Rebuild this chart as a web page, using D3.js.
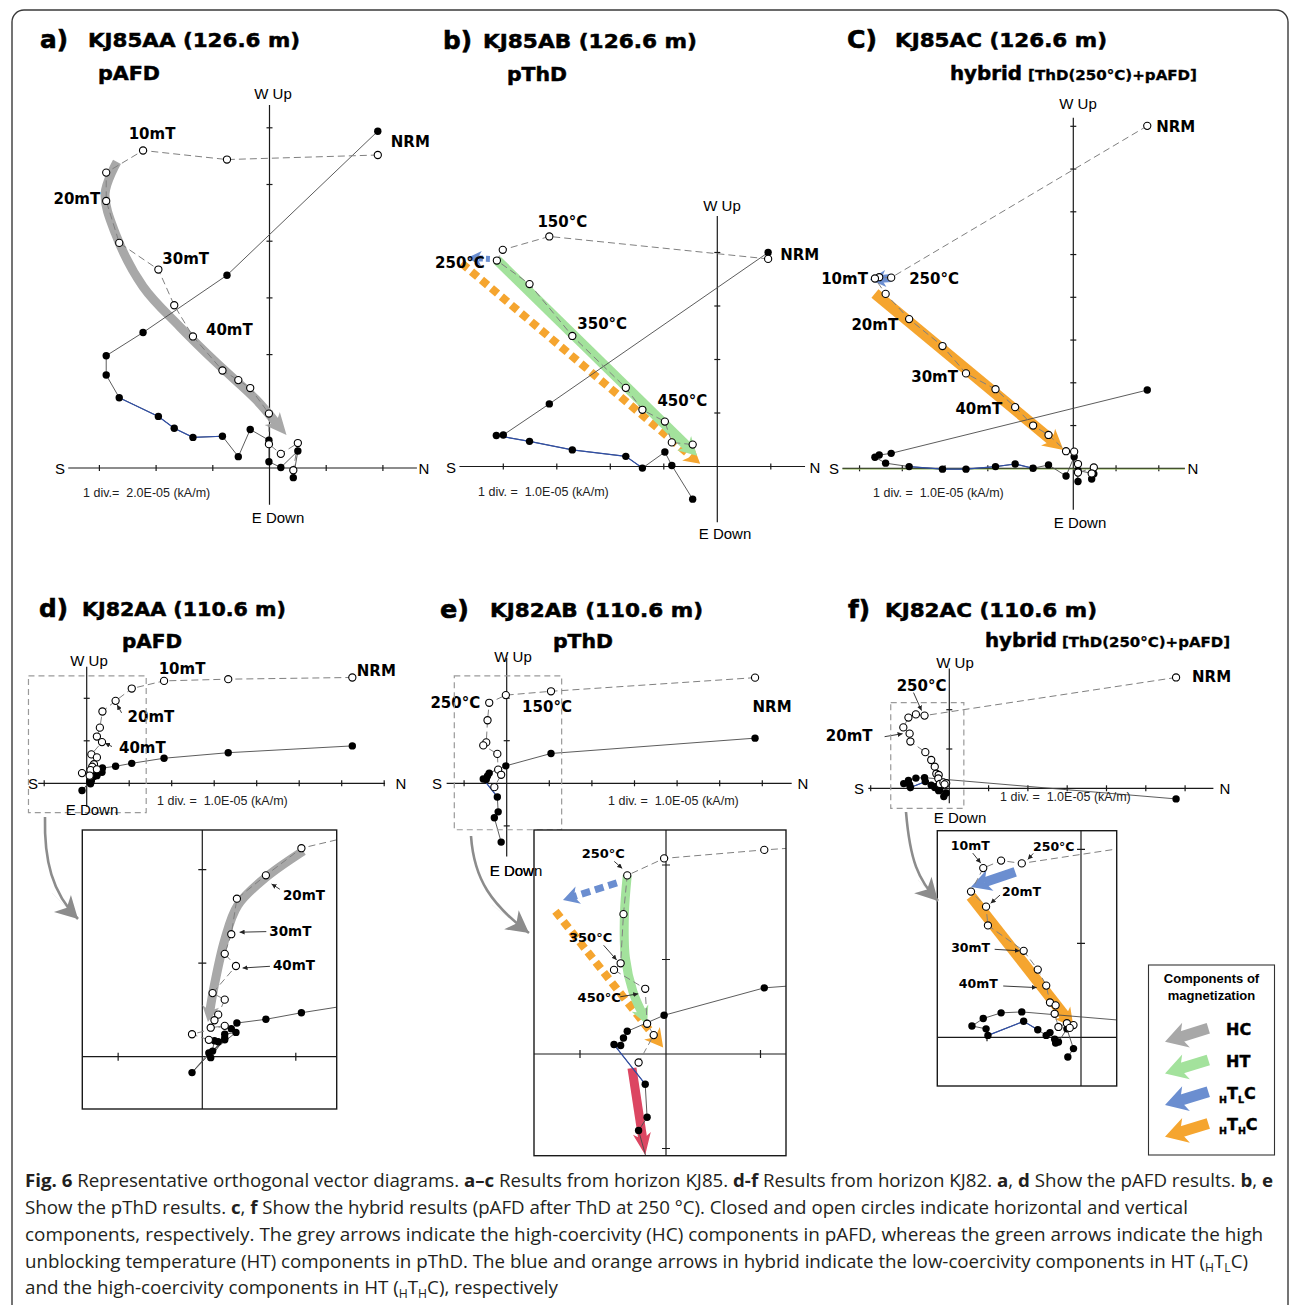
<!DOCTYPE html>
<html><head><meta charset="utf-8">
<script src="https://cdn.jsdelivr.net/npm/d3@7"></script>
<style>body{margin:0;background:#fff} text{white-space:pre}</style>
</head><body>
<svg id="fig" width="1290" height="1305"></svg>
<script>
// ================= DATA (in axis divisions) =================
// Panel a: KJ85AA pAFD  (vertical = open, horizontal = closed)
const aVertical = [[1.91,5.52],[-0.75,5.44],[-2.23,5.60],[-2.88,5.21],[-2.88,4.71],[-2.65,3.97],[-1.96,3.50],[-1.68,2.87],[-1.35,2.32],[-0.83,1.72],[-0.55,1.55],[-0.34,1.41],[-0.01,0.96],[-0.01,0.42],[0.20,0.25],[0.50,0.44],[0.42,-0.04]];
const aHorizontal = [[1.91,5.94],[-0.75,3.40],[-2.23,2.39],[-2.88,1.98],[-2.88,1.64],[-2.65,1.24],[-1.96,0.91],[-1.68,0.70],[-1.35,0.54],[-0.83,0.56],[-0.55,0.20],[-0.34,0.68],[-0.01,0.49],[-0.01,0.11],[0.20,0.01],[0.50,0.30],[0.42,-0.17]];
const aTicksX = [-3,-2,-1,1,2], aTicksY = [1,2,3,4,5,6];
const aArrowHC = [[-2.69,5.40],[-2.90,4.84],[-2.72,4.14],[-2.23,3.20],[-1.58,2.49],[-0.93,1.85],[-0.23,1.20],[0.30,0.58]];

// Panel b: KJ85AB pThD
const bVertical = [[0.95,3.88],[-3.14,4.30],[-4.01,4.05],[-4.12,3.85],[-3.51,3.41],[-2.71,2.44],[-1.71,1.47],[-1.40,1.06],[-0.98,0.84],[-0.85,0.45],[-0.46,0.41]];
const bHorizontal = [[0.95,4.00],[-3.14,1.17],[-4.00,0.59],[-4.13,0.58],[-3.51,0.47],[-2.71,0.31],[-1.71,0.19],[-1.40,-0.03],[-0.98,0.27],[-0.85,0.02],[-0.46,-0.61]];
const bTicksX = [-4,-3,-2,-1,1], bTicksY = [1,2,3,4];
const bArrowHT = [[-4.12,3.86],[-0.38,0.20]];
const bArrowHTHC = [[-4.78,3.80],[-0.32,0.05]];
const bArrowHTLC = [[-4.25,3.88],[-4.67,3.90]];

// Panel c: KJ85AC hybrid
const cVertical = [[1.73,8.01],[-4.26,4.46],[-4.54,4.47],[-4.64,4.44],[-4.39,4.08],[-3.84,3.49],[-3.06,2.86],[-2.51,2.22],[-1.82,1.85],[-1.36,1.43],[-0.94,1.00],[-0.58,0.78],[-0.17,0.40],[0.02,0.39],[0.11,0.10],[0.11,-0.10],[0.48,0.02],[0.43,-0.12]];
const cHorizontal = [[1.73,1.83],[-4.26,0.35],[-4.54,0.31],[-4.64,0.26],[-4.39,0.12],[-3.84,0.04],[-3.06,-0.02],[-2.51,-0.02],[-1.82,0.04],[-1.36,0.10],[-0.94,0.00],[-0.58,0.08],[-0.17,-0.18],[0.02,0.27],[0.11,-0.31],[0.11,-0.05],[0.48,-0.13],[0.43,-0.25]];
const cTicksX = [-5,-4,-3,-2,-1,1,2], cTicksY = [1,2,3,4,5,6,7,8];
const cArrowHTHC = [[-4.64,4.09],[-0.23,0.43]];
const cArrowHTLC = [[-4.26,4.45],[-4.76,4.41]];

// Panel d: KJ82AA pAFD
const dVertical = [[6.25,2.49],[3.33,2.45],[1.82,2.41],[1.06,2.23],[0.68,1.94],[0.37,1.69],[0.31,1.31],[0.24,1.10],[0.36,0.97],[0.11,0.68],[0.24,0.61],[0.17,0.45],[0.13,0.39],[0.09,0.31],[0.24,0.33],[-0.11,0.24],[0.07,0.18]];
const dHorizontal = [[6.25,0.88],[3.33,0.72],[1.82,0.59],[1.06,0.47],[0.68,0.40],[0.37,0.36],[0.31,0.30],[0.24,0.24],[0.36,0.26],[0.11,0.06],[0.24,0.18],[0.17,0.16],[0.13,0.17],[0.09,-0.01],[0.24,0.20],[-0.11,-0.17],[0.07,0.04]];
const dTicksX = [-1,1,2,3,4,5,6,7], dTicksY = [1,2];
const dInsetTicksX = [-0.9,1], dInsetTicksY = [1,2];
const dArrowHC = [[1.08,2.20],[0.67,1.91],[0.38,1.62],[0.24,1.25],[0.13,0.77],[0.06,0.37]];

// Panel e: KJ82AB pThD
const eVertical = [[5.83,2.48],[1.04,2.16],[-0.02,2.07],[-0.41,1.89],[-0.45,1.48],[-0.48,0.96],[-0.55,0.89],[-0.22,0.69],[-0.20,0.32],[-0.13,0.20],[-0.29,-0.09]];
const eHorizontal = [[5.83,1.06],[1.04,0.70],[-0.02,0.41],[-0.41,0.24],[-0.45,0.17],[-0.48,0.09],[-0.55,0.10],[-0.22,-0.32],[-0.20,-0.67],[-0.29,-0.81],[-0.13,-1.38]];
const eTicksX = [-1,1,2,3,4,5,6], eTicksY = [-1,1,2];
const eInsetTicksX = [-0.91,1], eInsetTicksY = [-1,1,2];
const eArrowHT = [[-0.41,1.89],[-0.44,1.48],[-0.43,1.02],[-0.35,0.66],[-0.20,0.31]];
const eArrowHTLC = [[-0.52,1.81],[-1.09,1.63]];
const eArrowHTHC = [[-1.17,1.51],[-0.03,0.07]];
const eArrowLT = [[-0.36,-0.15],[-0.22,-1.07]];

// Panel f: KJ82AC hybrid
const fVertical = [[5.77,2.82],[-0.63,1.85],[-0.85,1.88],[-1.04,1.80],[-1.17,1.55],[-1.01,1.39],[-0.99,1.19],[-0.61,0.92],[-0.46,0.72],[-0.37,0.55],[-0.33,0.37],[-0.27,0.34],[-0.28,0.25],[-0.24,0.11],[-0.15,0.15],[-0.08,0.13],[-0.12,0.10]];
const fHorizontal = [[5.77,-0.27],[-0.63,0.27],[-0.85,0.26],[-1.04,0.20],[-1.16,0.12],[-1.01,0.09],[-0.99,0.02],[-0.61,0.17],[-0.46,0.08],[-0.37,0.02],[-0.33,0.05],[-0.27,-0.06],[-0.28,-0.02],[-0.24,-0.05],[-0.15,0.09],[-0.08,-0.12],[-0.14,-0.21]];
const fTicksX = [-2,-1,1,2,3,4,5,6], fTicksY = [1,2];
const fInsetTicksX = [-1], fInsetTicksY = [1,2];
const fArrowHTLC = [[-0.70,1.76],[-1.17,1.60]];
const fArrowHTHC = [[-1.17,1.50],[-0.08,0.11]];

// Legend
const legendItems = ["HC","HT","HTLC","HTHC"];

// Caption
const captionLines = [
  [["Fig. 6","b"],[" Representative orthogonal vector diagrams. ",""],["a–c","b"],[" Results from horizon KJ85. ",""],["d-f","b"],[" Results from horizon KJ82. ",""],["a","b"],[", ",""],["d","b"],[" Show the pAFD results. ",""],["b","b"],[", ",""],["e","b"]],
  [["Show the pThD results. ",""],["c","b"],[", ",""],["f","b"],[" Show the hybrid results (pAFD after ThD at 250 °C). Closed and open circles indicate horizontal and vertical",""]],
  [["components, respectively. The grey arrows indicate the high-coercivity (HC) components in pAFD, whereas the green arrows indicate the high",""]],
  [["unblocking temperature (HT) components in pThD. The blue and orange arrows in hybrid indicate the low-coercivity components in HT (",""],["H","sub"],["T",""],["L","sub"],["C)",""]],
  [["and the high-coercivity components in HT (",""],["H","sub"],["T",""],["H","sub"],["C), respectively",""]]
];

// ================= DRAWING =================
const COL = {gray:'#a8a8a8', green:'#a3e29c', blue:'#6b8ed0', orange:'#f5a52f', red:'#dc4662', conn:'#8c8c8c'};
const BOLD = "'DejaVu Sans', sans-serif";
const REG = "'Liberation Sans', Arial, sans-serif";
const svg = d3.select('#fig');
const defs = svg.append('defs');
defs.append('marker').attr('id','ptr').attr('viewBox','0 0 6 6').attr('refX',6).attr('refY',3)
  .attr('markerWidth',5).attr('markerHeight',5).attr('markerUnits','userSpaceOnUse').attr('orient','auto')
  .append('path').attr('d','M0,0L6,3L0,6Z').attr('fill','#222');

svg.append('rect').attr('x',12).attr('y',10).attr('width',1276).attr('height',1340).attr('rx',12)
  .attr('fill','none').attr('stroke','#3a3a3a').attr('stroke-width',1.4);

function drawArrow(g, pts, o) {
  const n = pts.length, T = pts[n-1], P0 = pts[n-2];
  let dx = T[0]-P0[0], dy = T[1]-P0[1]; const L = Math.hypot(dx,dy); dx/=L; dy/=L;
  const nx = -dy, ny = dx, hl = o.hl, hw = o.hw;
  const S = [T[0]-dx*hl*0.7, T[1]-dy*hl*0.7];
  const shaft = pts.slice(0,n-1).concat([S]);
  const ln = d3.line().curve(n>2 ? d3.curveCatmullRom.alpha(0.5) : d3.curveLinear);
  g.append('path').attr('d', ln(shaft)).attr('fill','none').attr('stroke',o.color)
    .attr('stroke-width',o.w).attr('stroke-dasharray',o.dash||null).attr('stroke-linecap','butt');
  const B = [T[0]-dx*hl, T[1]-dy*hl], N = [T[0]-dx*hl*0.72, T[1]-dy*hl*0.72];
  const head = [T,[B[0]+nx*hw/2,B[1]+ny*hw/2],N,[B[0]-nx*hw/2,B[1]-ny*hw/2]];
  g.append('path').attr('d','M'+head.map(p=>p.join(',')).join('L')+'Z').attr('fill',o.color);
}

function scalesFor(ox, oy, div, xd, yd) {
  return {
    x: d3.scaleLinear().domain(xd).range([ox+xd[0]*div, ox+xd[1]*div]),
    y: d3.scaleLinear().domain(yd).range([oy-yd[0]*div, oy-yd[1]*div])
  };
}

function drawAxes(g, s, tx, ty, tl) {
  const [x0,x1] = s.x.domain(), [y0,y1] = s.y.domain();
  const ax = g.append('g').attr('stroke','#1a1a1a').attr('stroke-width',1.2);
  ax.append('line').attr('x1',s.x(x0)).attr('x2',s.x(x1)).attr('y1',s.y(0)).attr('y2',s.y(0));
  ax.append('line').attr('x1',s.x(0)).attr('x2',s.x(0)).attr('y1',s.y(y0)).attr('y2',s.y(y1));
  tx.forEach(t=>ax.append('line').attr('x1',s.x(t)).attr('x2',s.x(t)).attr('y1',s.y(0)-tl).attr('y2',s.y(0)+tl));
  ty.forEach(t=>ax.append('line').attr('y1',s.y(t)).attr('y2',s.y(t)).attr('x1',s.x(0)-tl).attr('x2',s.x(0)+tl));
}

function drawData(g, s, P, arrows) {
  const line = d3.line().x(d=>s.x(d[0])).y(d=>s.y(d[1]));
  (arrows||[]).forEach(a=>drawArrow(g, a.pts.map(p=>[s.x(p[0]),s.y(p[1])]), a));
  g.append('path').attr('d',line(P.horiz)).attr('fill','none').attr('stroke','#4a4a4a').attr('stroke-width',0.9);
  if (P.blue) g.append('path').attr('d',line(P.horiz.slice(P.blue[0],P.blue[1]+1))).attr('fill','none').attr('stroke','#2f4fa8').attr('stroke-width',1.2);
  g.append('path').attr('d',line(P.vert)).attr('fill','none').attr('stroke','#808080').attr('stroke-width',1).attr('stroke-dasharray','7,4');
  g.selectAll(null).data(P.horiz).join('circle').attr('cx',d=>s.x(d[0])).attr('cy',d=>s.y(d[1])).attr('r',3.7).attr('fill','#000');
  g.selectAll(null).data(P.vert).join('circle').attr('cx',d=>s.x(d[0])).attr('cy',d=>s.y(d[1])).attr('r',3.6).attr('fill','#fff').attr('stroke','#000').attr('stroke-width',1.1);
}

function drawLabels(g, s, P, labels, size) {
  labels.forEach(L=>{
    const pt = (L.s==='h'?P.horiz:P.vert)[L.i];
    const px = s.x(pt[0]), py = s.y(pt[1]);
    g.append('text').attr('x',px+L.dx).attr('y',py+L.dy).attr('dominant-baseline','central')
      .attr('text-anchor',L.a).attr('font-family',BOLD).attr('font-weight','bold').attr('font-size',size).attr('fill','#000').text(L.t);
    if (L.ptr) g.append('line').attr('x1',px+L.ptr[0]).attr('y1',py+L.ptr[1]).attr('x2',px+L.ptr[2]).attr('y2',py+L.ptr[3])
      .attr('stroke','#222').attr('stroke-width',0.9).attr('marker-end','url(#ptr)');
  });
}

function txt(x, y, t, o) {
  const e = svg.append('text').attr('x',x).attr('y',y).attr('font-family',o.f||REG).attr('font-size',o.size)
    .attr('font-weight',o.w||'normal').attr('text-anchor',o.a||'start').attr('fill',o.c||'#000').text(t);
  if (o.c2) e.attr('dominant-baseline','central');
  if (o.len) e.attr('textLength',o.len).attr('lengthAdjust','spacingAndGlyphs');
  if (o.stroke) e.attr('stroke','#000').attr('stroke-width',o.stroke);
  return e;
}

const panels = [
  {P:{vert:aVertical,horiz:aHorizontal,blue:[5,9]}, o:[269.5,468], div:56.7, xd:[-3.55,2.6], yd:[-0.65,6.4], tx:aTicksX, ty:aTicksY,
   arrows:[{pts:aArrowHC,color:COL.gray,w:9,hl:22,hw:20}],
   labels:[{t:'NRM',s:'v',i:0,dx:13,dy:-13,a:'start'},{t:'10mT',s:'v',i:2,dx:9,dy:-16,a:'middle'},{t:'20mT',s:'v',i:4,dx:-6,dy:-2,a:'end'},
           {t:'30mT',s:'v',i:6,dx:4,dy:-11,a:'start'},{t:'40mT',s:'v',i:8,dx:13,dy:-6,a:'start'}],
   ax:{wu:[273,93],ed:[278,517],S:[60,468],N:[424,468],dv:[83,493],dvt:'1 div.=  2.0E-05 (kA/m)'}},
  {P:{vert:bVertical,horiz:bHorizontal,blue:[2,7]}, o:[717.3,466.5], div:53.5, xd:[-4.82,1.64], yd:[-1.04,4.68], tx:bTicksX, ty:bTicksY,
   arrows:[{pts:bArrowHTHC,color:COL.orange,w:8,hl:16,hw:18,dash:'8,5'},{pts:bArrowHT,color:COL.green,w:10,hl:18,hw:20},{pts:bArrowHTLC,color:COL.blue,w:6,hl:14,hw:15,dash:'4,3'}],
   labels:[{t:'150°C',s:'v',i:1,dx:13,dy:-14,a:'middle'},{t:'250°C',s:'v',i:3,dx:-12,dy:2,a:'end'},{t:'350°C',s:'v',i:5,dx:5,dy:-12,a:'start'},
           {t:'450°C',s:'v',i:7,dx:15,dy:-9,a:'start'},{t:'NRM',s:'h',i:0,dx:12,dy:2,a:'start'}],
   ax:{wu:[722,205],ed:[725,533],S:[451,467],N:[815,467],dv:[478,492],dvt:'1 div. =  1.0E-05 (kA/m)'}},
  {P:{vert:cVertical,horiz:cHorizontal,blue:[5,10]}, o:[1073.3,468.3], div:42.75, xd:[-5.4,2.61], yd:[-0.97,8.2], tx:cTicksX, ty:cTicksY,
   arrows:[{pts:cArrowHTHC,color:COL.orange,w:11,hl:20,hw:22},{pts:cArrowHTLC,color:COL.blue,w:8,hl:16,hw:17}],
   labels:[{t:'NRM',s:'v',i:0,dx:9,dy:1,a:'start'},{t:'10mT',s:'v',i:3,dx:-7,dy:1,a:'end'},{t:'250°C',s:'v',i:1,dx:18,dy:1,a:'start'},
           {t:'20mT',s:'v',i:5,dx:-11,dy:6,a:'end'},{t:'30mT',s:'v',i:7,dx:-8,dy:4,a:'end'},{t:'40mT',s:'v',i:9,dx:-13,dy:2,a:'end'}],
   ax:{wu:[1078,103],ed:[1080,522],S:[834,468],N:[1193,468],dv:[873,493],dvt:'1 div. =  1.0E-05 (kA/m)'}, green:true},
  {P:{vert:dVertical,horiz:dHorizontal}, o:[86.7,783.3], div:42.5, xd:[-1.14,7.02], yd:[-0.55,2.74], tx:dTicksX, ty:dTicksY,
   labels:[{t:'NRM',s:'v',i:0,dx:24,dy:-6,a:'middle'},{t:'10mT',s:'v',i:2,dx:18,dy:-12,a:'middle'},
           {t:'20mT',s:'v',i:4,dx:12,dy:16,a:'start',ptr:[6,12,1.5,4]},{t:'40mT',s:'v',i:8,dx:17,dy:6,a:'start',ptr:[10,4.5,3,1]}],
   ax:{wu:[89,660],ed:[92,809],S:[33,783],N:[401,783],dv:[157,801],dvt:'1 div. =  1.0E-05 (kA/m)'},
   box:{u:[-1.37,1.40],v:[-0.69,2.53]},
   inset:{rect:[82.3,830,336.7,1109], o:[202.3,1056.7], div:93.5, tx:dInsetTicksX, ty:dInsetTicksY, size:13.5,
     arrows:[{pts:dArrowHC,color:COL.gray,w:9,hl:16,hw:17}],
     labels:[{t:'20mT',s:'v',i:4,dx:17,dy:20,a:'start',ptr:[14,14,5.7,8.6]},{t:'30mT',s:'v',i:6,dx:38,dy:-3,a:'start',ptr:[35,-2.6,8.3,-2]},
             {t:'40mT',s:'v',i:8,dx:37,dy:-1,a:'start',ptr:[34,0.3,6.6,2]}]},
   conn:[[45,817],[44,860],[52,893],[78,919]]},
  {P:{vert:eVertical,horiz:eHorizontal,blue:[6,7]}, o:[506.7,783.3], div:42.6, xd:[-1.41,6.69], yd:[-1.72,2.94], tx:eTicksX, ty:eTicksY,
   labels:[{t:'250°C',s:'v',i:3,dx:-9,dy:0,a:'end'},{t:'150°C',s:'v',i:1,dx:-4,dy:16,a:'middle'},{t:'NRM',s:'v',i:0,dx:17,dy:29,a:'middle'}],
   ax:{wu:[513,656],ed:[516,870],S:[437,783],N:[803,783],dv:[608,801],dvt:'1 div. =  1.0E-05 (kA/m)'},
   box:{u:[-1.23,1.29],v:[-1.09,2.52]},
   inset:{rect:[534,830,786,1155.7], o:[666,1054], div:94.5, tx:eInsetTicksX, ty:eInsetTicksY, size:13,
     arrows:[{pts:eArrowHTHC,color:COL.orange,w:8,hl:18,hw:20,dash:'8,5'},{pts:eArrowHT,color:COL.green,w:9,hl:18,hw:18},
             {pts:eArrowHTLC,color:COL.blue,w:7,hl:16,hw:18,dash:'9,5'},{pts:eArrowLT,color:COL.red,w:9,hl:22,hw:18}],
     labels:[{t:'250°C',s:'v',i:3,dx:-24,dy:-22,a:'middle',ptr:[-13,-14,-5,-7]},{t:'350°C',s:'v',i:5,dx:-30,dy:-26,a:'middle',ptr:[-17,-18,-4,-3.3]},
             {t:'450°C',s:'v',i:7,dx:-46,dy:9,a:'middle',ptr:[-25,8,-7,5]}]},
   conn:[[471,836],[474,880],[492,905],[529,933]]},
  {P:{vert:fVertical,horiz:fHorizontal,blue:[6,8]}, o:[949.3,788.3], div:39.3, xd:[-2.06,6.72], yd:[-0.38,3.05], tx:fTicksX, ty:fTicksY,
   labels:[{t:'NRM',s:'v',i:0,dx:16,dy:0,a:'start'},{t:'250°C',s:'v',i:1,dx:-3,dy:-30,a:'middle',ptr:[-11,-23,-3,-5]},
           {t:'20mT',s:'v',i:5,dx:-37,dy:2,a:'end',ptr:[-25,3,-7,0]}],
   ax:{wu:[955,662],ed:[960,817],S:[859,788],N:[1225,788],dv:[1000,797],dvt:'1 div. =  1.0E-05 (kA/m)'},
   box:{u:[-1.49,0.37],v:[-0.51,2.18]},
   inset:{rect:[937.3,830.7,1116.7,1086], o:[1081,1037.3], div:94, tx:fInsetTicksX, ty:fInsetTicksY, size:12.5,
     arrows:[{pts:fArrowHTLC,color:COL.blue,w:10,hl:20,hw:22},{pts:fArrowHTHC,color:COL.orange,w:11,hl:18,hw:20}],
     labels:[{t:'10mT',s:'v',i:3,dx:-13,dy:-23,a:'middle',ptr:[-10.5,-15,-2.5,-5]},{t:'250°C',s:'v',i:1,dx:32,dy:-17,a:'middle',ptr:[11.5,-10,6,-4]},
             {t:'20mT',s:'v',i:5,dx:16,dy:-15,a:'start',ptr:[14,-11.6,4.6,-3.3]},{t:'30mT',s:'v',i:7,dx:-53,dy:-3,a:'middle',ptr:[-29,-1.5,-4,0]},
             {t:'40mT',s:'v',i:9,dx:-68,dy:-2,a:'middle',ptr:[-43,0.4,-9.5,2]}]},
   conn:[[906,812],[910,860],[918,880],[938,901]]}
];

panels.forEach((pn,k)=>{
  const g = svg.append('g');
  const s = scalesFor(pn.o[0],pn.o[1],pn.div,pn.xd,pn.yd);
  drawAxes(g,s,pn.tx,pn.ty,3);
  if (pn.green) g.append('line').attr('x1',s.x(pn.xd[0])).attr('x2',s.x(pn.xd[1])).attr('y1',s.y(0)+0.8).attr('y2',s.y(0)+0.8).attr('stroke','#8db255').attr('stroke-width',0.9);
  drawData(g,s,pn.P,pn.arrows);
  drawLabels(g,s,pn.P,pn.labels,15);
  const A = pn.ax;
  txt(A.wu[0],A.wu[1],'W Up',{size:15,a:'middle',c2:1});
  txt(A.ed[0],A.ed[1],'E Down',{size:15,a:'middle',c2:1});
  txt(A.S[0],A.S[1],'S',{size:15,a:'middle',c2:1});
  txt(A.N[0],A.N[1],'N',{size:15,a:'middle',c2:1});
  txt(A.dv[0],A.dv[1],A.dvt,{size:12.5,c2:1,c:'#222'});
  if (pn.box) {
    g.append('rect').attr('x',s.x(pn.box.u[0])).attr('y',s.y(pn.box.v[1]))
      .attr('width',s.x(pn.box.u[1])-s.x(pn.box.u[0])).attr('height',s.y(pn.box.v[0])-s.y(pn.box.v[1]))
      .attr('fill','none').attr('stroke','#9a9a9a').attr('stroke-width',1.2).attr('stroke-dasharray','6,4');
  }
  if (pn.inset) {
    const I = pn.inset, r = I.rect;
    const ig = svg.append('g');
    const xd = [(r[0]-I.o[0])/I.div,(r[2]-I.o[0])/I.div], yd = [(I.o[1]-r[3])/I.div,(I.o[1]-r[1])/I.div];
    const si = scalesFor(I.o[0],I.o[1],I.div,xd,yd);
    ig.append('rect').attr('x',r[0]).attr('y',r[1]).attr('width',r[2]-r[0]).attr('height',r[3]-r[1]).attr('fill','#fff');
    const cid = 'clip'+k;
    defs.append('clipPath').attr('id',cid).append('rect').attr('x',r[0]).attr('y',r[1]).attr('width',r[2]-r[0]).attr('height',r[3]-r[1]);
    const cg = ig.append('g').attr('clip-path',`url(#${cid})`);
    drawAxes(cg,si,I.tx,I.ty,4);
    drawData(cg,si,pn.P,I.arrows);
    drawLabels(ig,si,pn.P,I.labels,I.size);
    ig.append('rect').attr('x',r[0]).attr('y',r[1]).attr('width',r[2]-r[0]).attr('height',r[3]-r[1]).attr('fill','none').attr('stroke','#1a1a1a').attr('stroke-width',1.4);
    const c = pn.conn;
    const cg2 = svg.append('g');
    cg2.append('path').attr('d',`M${c[0]}C${c[1]} ${c[2]} ${c[3]}`).attr('fill','none').attr('stroke',COL.conn).attr('stroke-width',2.6);
    drawArrow(cg2,[c[2],c[3]],{color:COL.conn,w:0.1,hl:22,hw:24});
  }
});
txt(516,870,'E Down',{size:15,a:'middle',c2:1});

// ---------- titles ----------
const titles = [
  {l:'a)',lx:40,lw:28,t:'KJ85AA (126.6 m)',tx:88,tw:212,y:47,s:'pAFD',sx:98,sw:62,sy:80},
  {l:'b)',lx:443,lw:29,t:'KJ85AB (126.6 m)',tx:483,tw:214,y:48,s:'pThD',sx:507,sw:60,sy:81},
  {l:'C)',lx:847,lw:30,t:'KJ85AC (126.6 m)',tx:895,tw:212,y:47,s:'hybrid',sx:950,sw:72,sy:80,br:'[ThD(250°C)+pAFD]',bx:1028,bw:169},
  {l:'d)',lx:39,lw:29,t:'KJ82AA (110.6 m)',tx:82,tw:204,y:616,s:'pAFD',sx:122,sw:60,sy:648},
  {l:'e)',lx:440,lw:29,t:'KJ82AB (110.6 m)',tx:490,tw:213,y:617,s:'pThD',sx:553,sw:60,sy:648},
  {l:'f)',lx:848,lw:22,t:'KJ82AC (110.6 m)',tx:885,tw:212,y:617,s:'hybrid',sx:985,sw:72,sy:647,br:'[ThD(250°C)+pAFD]',bx:1062,bw:168}
];
titles.forEach(T=>{
  txt(T.lx,T.y+1,T.l,{f:BOLD,w:'bold',size:25,len:T.lw,stroke:0.6});
  txt(T.tx,T.y,T.t,{f:BOLD,w:'bold',size:19.5,len:T.tw,stroke:0.5});
  txt(T.sx,T.sy,T.s,{f:BOLD,w:'bold',size:19,len:T.sw,stroke:0.5});
  if (T.br) txt(T.bx,T.sy,T.br,{f:BOLD,w:'bold',size:13.5,len:T.bw,stroke:0.3});
});

// ---------- legend ----------
const lg = svg.append('g');
lg.append('rect').attr('x',1148.5).attr('y',965).attr('width',126).attr('height',190).attr('fill','#fff').attr('stroke','#333').attr('stroke-width',1.1);
txt(1211.5,983,'Components of',{size:13,w:'bold',a:'middle'});
txt(1211.5,1000,'magnetization',{size:13,w:'bold',a:'middle'});
const legCols = [COL.gray,COL.green,COL.blue,COL.orange];
legendItems.forEach((it,i)=>{
  const y0 = 1028.3 + i*31.7;
  drawArrow(lg,[[1208.3,y0],[1165,y0+13.4]],{color:legCols[i],w:11,hl:22,hw:26});
  const t = lg.append('text').attr('x',1226).attr('y',y0+7).attr('font-family',BOLD).attr('font-weight','bold').attr('font-size',16).attr('stroke','#000').attr('stroke-width',0.4);
  if (it.length===2) t.text(it);
  else {
    t.attr('x',1219);
    t.append('tspan').attr('font-size',9.5).attr('dy',4).text(it[0]);
    t.append('tspan').attr('dy',-4).text(it[1]);
    t.append('tspan').attr('font-size',9.5).attr('dy',4).text(it[2]);
    t.append('tspan').attr('dy',-4).text(it[3]);
  }
});

// ---------- caption ----------
const capY = [1187,1214,1241,1268,1294];
const capW = [1248,1163,1238,1223,533];
captionLines.forEach((segs,i)=>{
  const t = svg.append('text').attr('x',25).attr('y',capY[i]).attr('font-family',"'Open Sans', sans-serif")
    .attr('font-size',18.5).attr('fill','#231f20').attr('textLength',capW[i]).attr('lengthAdjust','spacingAndGlyphs');
  let shifted = false;
  segs.forEach(([s,st])=>{
    const ts = t.append('tspan').text(s);
    if (st==='b') ts.attr('font-weight','bold');
    if (st==='sub') { ts.attr('font-size',12); if (!shifted) { ts.attr('dy',4); shifted = true; } }
    else if (shifted) { ts.attr('dy',-4); shifted = false; }
  });
});
</script>
</body></html>
